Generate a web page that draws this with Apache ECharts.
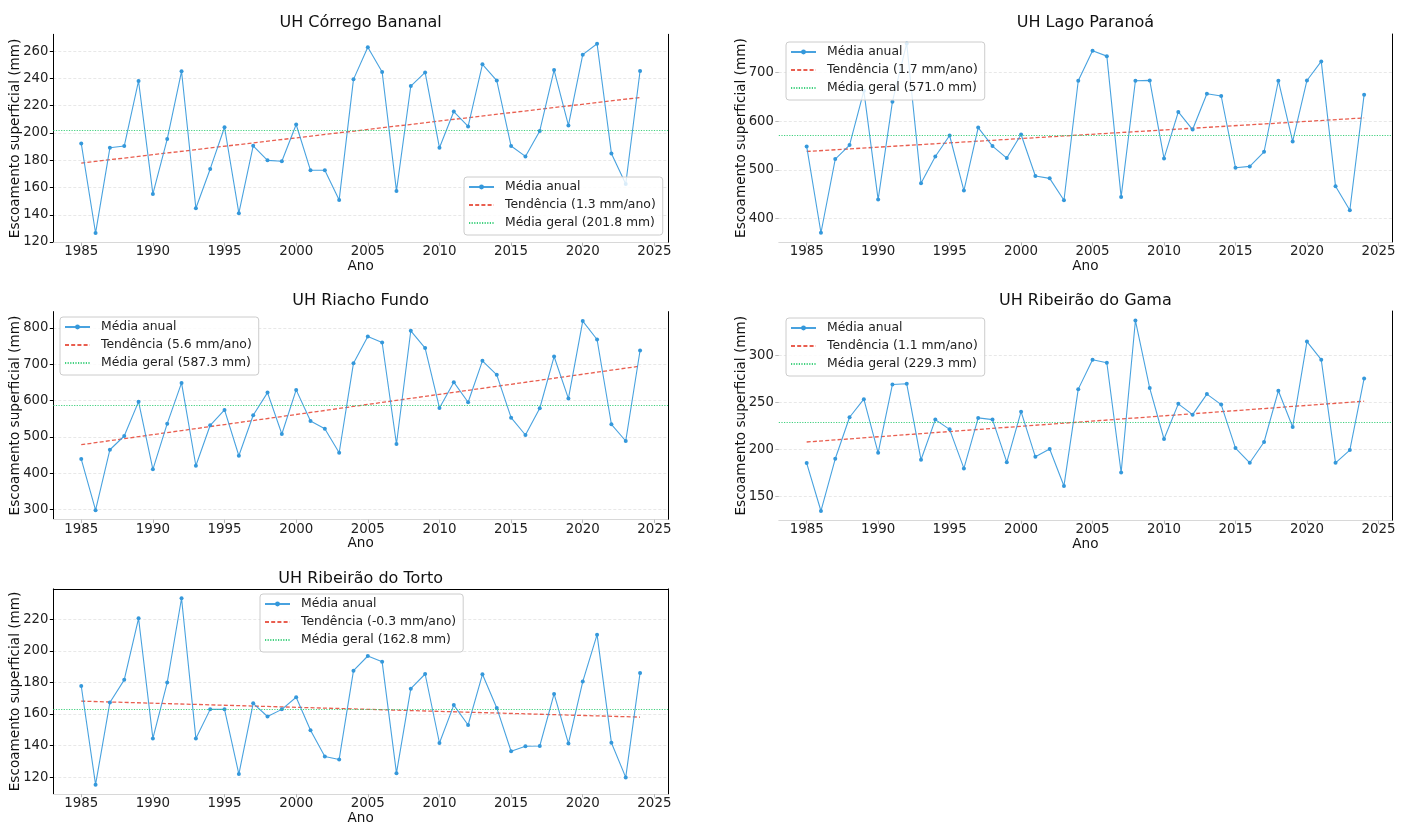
<!DOCTYPE html>
<html><head><meta charset="utf-8">
<script src="https://cdn.jsdelivr.net/npm/echarts@6/dist/echarts.min.js"></script>
<style>html,body{margin:0;padding:0;background:#fff}#c{width:1411px;height:826px}</style>
</head><body><div id="c"></div>
<script>
// ---------------- data ----------------
const years = [1985,1986,1987,1988,1989,1990,1991,1992,1993,1994,1995,1996,1997,1998,1999,2000,2001,2002,2003,2004,
               2005,2006,2007,2008,2009,2010,2011,2012,2013,2014,2015,2016,2017,2018,2019,2020,2021,2022,2023,2024];
const xTicks = [1985,1990,1995,2000,2005,2010,2015,2020,2025];
const titles = ['UH Córrego Bananal','UH Lago Paranoá','UH Riacho Fundo','UH Ribeirão do Gama','UH Ribeirão do Torto'];

const bananal = [192.3,126.6,189.1,190.4,238.1,155.3,195.5,245.2,144.8,173.6,204.2,141.2,190.6,179.9,179.2,206.2,172.6,172.6,150.9,239.3,
                 262.9,244.7,157.5,234.4,244.4,189.1,215.7,204.8,250.3,238.4,190.4,182.8,201.5,246.1,205.5,257.4,265.4,185.0,162.6,245.4];
const paranoa = [547.9,370.8,522.0,550.7,662.0,438.9,639.9,759.3,472.2,527.4,570.4,457.3,586.7,548.7,524.1,572.4,487.3,482.4,437.4,682.8,
                 744.2,733.3,444.4,682.8,683.5,523.3,618.8,582.6,656.2,651.5,504.3,507.0,537.0,682.8,558.1,683.3,722.5,466.1,417.0,654.2];
const riacho  = [438.9,298.1,464.6,502.5,597.2,410.5,536.5,648.9,420.4,532.0,574.3,448.1,559.7,622.1,508.0,629.6,543.9,522.7,456.4,703.3,
                 776.8,760.2,480.4,792.5,744.8,579.8,650.8,595.6,709.7,671.0,553.0,505.2,579.0,721.5,605.5,819.3,768.5,534.8,488.7,738.1];
const gama    = [185.4,134.3,190.0,234.3,253.6,196.4,269.3,270.0,188.9,231.8,221.4,179.7,233.6,231.8,186.4,240.3,192.1,200.4,161.0,264.3,
                 295.7,292.5,175.4,337.5,265.4,211.1,248.6,237.1,259.0,247.8,201.4,185.7,207.9,262.5,223.9,315.0,295.7,185.7,199.3,275.7];
const torto   = [177.7,115.2,167.3,181.6,220.6,144.5,179.9,233.3,144.5,162.9,162.9,121.9,166.7,158.4,162.9,170.6,149.7,133.1,131.2,187.4,
                 196.7,193.0,122.5,176.0,185.3,141.6,165.6,153.0,185.1,163.8,136.4,139.5,139.7,172.7,141.3,180.5,210.2,141.8,119.8,186.0];

// trend line values at 1985 and 2024
const trendYears = [1985, 2024];
const trendBananal = [177.9, 226.0];
const trendParanoa = [537.6, 606.5];
const trendRiacho  = [478.5, 695.0];
const trendGama    = [207.9, 251.4];
const trendTorto   = [168.1, 158.0];

const slopes = ['1.3','1.7','5.6','1.1','-0.3'];
const means  = [201.8, 571.0, 587.3, 229.3, 162.8];

const yTicksBananal = [120,140,160,180,200,220,240,260];
const yTicksParanoa = [400,500,600,700];
const yTicksRiacho  = [300,400,500,600,700,800];
const yTicksGama    = [150,200,250,300];
const yTicksTorto   = [120,140,160,180,200,220];

// ---------------- layout ----------------
const layout = [
  {grid:{left:53.3, top:34.3, width:614.7, height:208.2}, legend:{left:464, top:177}, leftSpine:true,  topSpine:false, titleY:23},
  {grid:{left:778.8,top:34.0, width:613.2, height:208.2}, legend:{left:786, top:42},  leftSpine:false, topSpine:false, titleY:23},
  {grid:{left:53.3, top:311.6,width:614.7, height:208.0}, legend:{left:60,  top:317}, leftSpine:true,  topSpine:false, titleY:300.5},
  {grid:{left:778.8,top:311.0,width:613.2, height:209.5}, legend:{left:786, top:318}, leftSpine:false, topSpine:false, titleY:300.5},
  {grid:{left:53.3, top:588.9,width:614.7, height:208.6}, legend:{left:260, top:594}, leftSpine:true,  topSpine:true,  titleY:578.5}
];

const seriesData = [bananal, paranoa, riacho, gama, torto];
const trends = [trendBananal, trendParanoa, trendRiacho, trendGama, trendTorto];
const yTicks = [yTicksBananal, yTicksParanoa, yTicksRiacho, yTicksGama, yTicksTorto];

const FONT = 'DejaVu Sans';
const BLUE = '#3498db', RED = '#e74c3c', GREEN = '#2ecc71';

const option = {animation:false, backgroundColor:'#fff', title:[], grid:[], xAxis:[], yAxis:[], legend:[], series:[]};

layout.forEach((L, i) => {
  const vals = seriesData[i];
  const dmin = Math.min(...vals), dmax = Math.max(...vals);
  const yr = dmax - dmin;
  const ymin = dmin - 0.05*yr, ymax = dmax + 0.05*yr;
  const xmin = years[0] - 0.05*(years[years.length-1]-years[0]);
  const xmax = years[years.length-1] + 0.05*(years[years.length-1]-years[0]);
  const cx = L.grid.left + L.grid.width/2;

  option.title.push({text:titles[i], left:cx, top:L.titleY, textAlign:'center', textVerticalAlign:'middle', padding:0,
    textStyle:{fontFamily:FONT, fontSize:16, fontWeight:'normal', color:'#111'}});
  option.grid.push(Object.assign({containLabel:false}, L.grid));

  const xi = option.xAxis.length;
  option.xAxis.push({type:'value', gridIndex:i, min:xmin, max:xmax, position:'bottom',
    name:'Ano', nameLocation:'middle', nameGap:17, nameMoveOverlap:false,
    nameTextStyle:{fontFamily:FONT, fontSize:13.6, color:'#111'},
    axisLine:{show:true, onZero:false, lineStyle:{color:'#d8d8d8', width:1}},
    axisTick:{show:true, length:3.5, customValues:xTicks, lineStyle:{color:'#bbbbbb'}},
    axisLabel:{customValues:xTicks, margin:3, fontFamily:FONT, fontSize:13.4, color:'#222', formatter:v=>String(v)},
    splitLine:{show:false}});
  if (L.topSpine) {
    option.xAxis.push({type:'value', gridIndex:i, min:xmin, max:xmax, position:'top',
      axisLine:{show:true, onZero:false, lineStyle:{color:'#000', width:1}}, axisTick:{show:false}, axisLabel:{show:false}, splitLine:{show:false}});
  }
  const yi = option.yAxis.length;
  const tickCol = L.leftSpine ? '#000' : '#bbbbbb';
  option.yAxis.push({type:'value', gridIndex:i, min:ymin, max:ymax, position:'left',
    name:'Escoamento superficial (mm)', nameLocation:'middle', nameGap:30.5, nameRotate:90, nameMoveOverlap:false,
    nameTextStyle:{fontFamily:FONT, fontSize:13.6, color:'#111'},
    axisLine:{show:L.leftSpine, onZero:false, lineStyle:{color:'#000', width:1}},
    axisTick:{show:true, length:3.5, customValues:yTicks[i], lineStyle:{color:tickCol}},
    axisLabel:{customValues:yTicks[i], margin:5, fontFamily:FONT, fontSize:13.2, color:'#222', formatter:v=>String(v)},
    splitLine:{show:true, lineStyle:{color:'#e2e2e2', type:[3,2], width:0.8}}});
  option.yAxis.push({type:'value', gridIndex:i, min:ymin, max:ymax, position:'right',
    axisLine:{show:true, onZero:false, lineStyle:{color:'#000', width:1}}, axisTick:{show:false}, axisLabel:{show:false}, splitLine:{show:false}});

  const trendName = 'Tendência (' + slopes[i] + ' mm/ano)';
  const meanName = 'Média geral (' + means[i].toFixed(1) + ' mm)';

  option.series.push({type:'line', name:meanName, xAxisIndex:xi, yAxisIndex:yi, data:[], symbol:'none', z:1,
    lineStyle:{color:GREEN, type:[1.2,1.4], width:1.1, opacity:0.9}, itemStyle:{color:GREEN},
    markLine:{silent:true, symbol:'none', label:{show:false}, animation:false,
      lineStyle:{color:GREEN, type:[1.2,1.4], width:1.1, opacity:0.9}, data:[{yAxis:means[i]}]}});
  option.series.push({type:'line', name:trendName, xAxisIndex:xi, yAxisIndex:yi, symbol:'none', z:2,
    data: trendYears.map((y,k)=>[y, trends[i][k]]),
    lineStyle:{color:RED, type:[4,2.2], width:1.3, opacity:0.9}, itemStyle:{color:RED}});
  option.series.push({type:'line', name:'Média anual', xAxisIndex:xi, yAxisIndex:yi, z:3,
    data: years.map((y,k)=>[y, vals[k]]), symbol:'circle', symbolSize:4, showSymbol:true,
    lineStyle:{color:BLUE, width:1.1, opacity:0.9}, itemStyle:{color:BLUE}});

  option.legend.push({orient:'vertical', left:L.legend.left, top:L.legend.top, selectedMode:false,
    data:['Média anual', {name:trendName, itemStyle:{opacity:0}}, {name:meanName, itemStyle:{opacity:0}}],
    itemWidth:25, itemHeight:6, itemGap:6,
    backgroundColor:'rgba(255,255,255,0.82)', borderColor:'#cccccc', borderWidth:1, borderRadius:3,
    padding:[4,7,6,4],
    textStyle:{fontFamily:FONT, fontSize:12.4, color:'#222', padding:[0,0,0,6]}});
});

const chart = echarts.init(document.getElementById('c'), null, {renderer:'canvas'});
chart.setOption(option);
</script></body></html>
